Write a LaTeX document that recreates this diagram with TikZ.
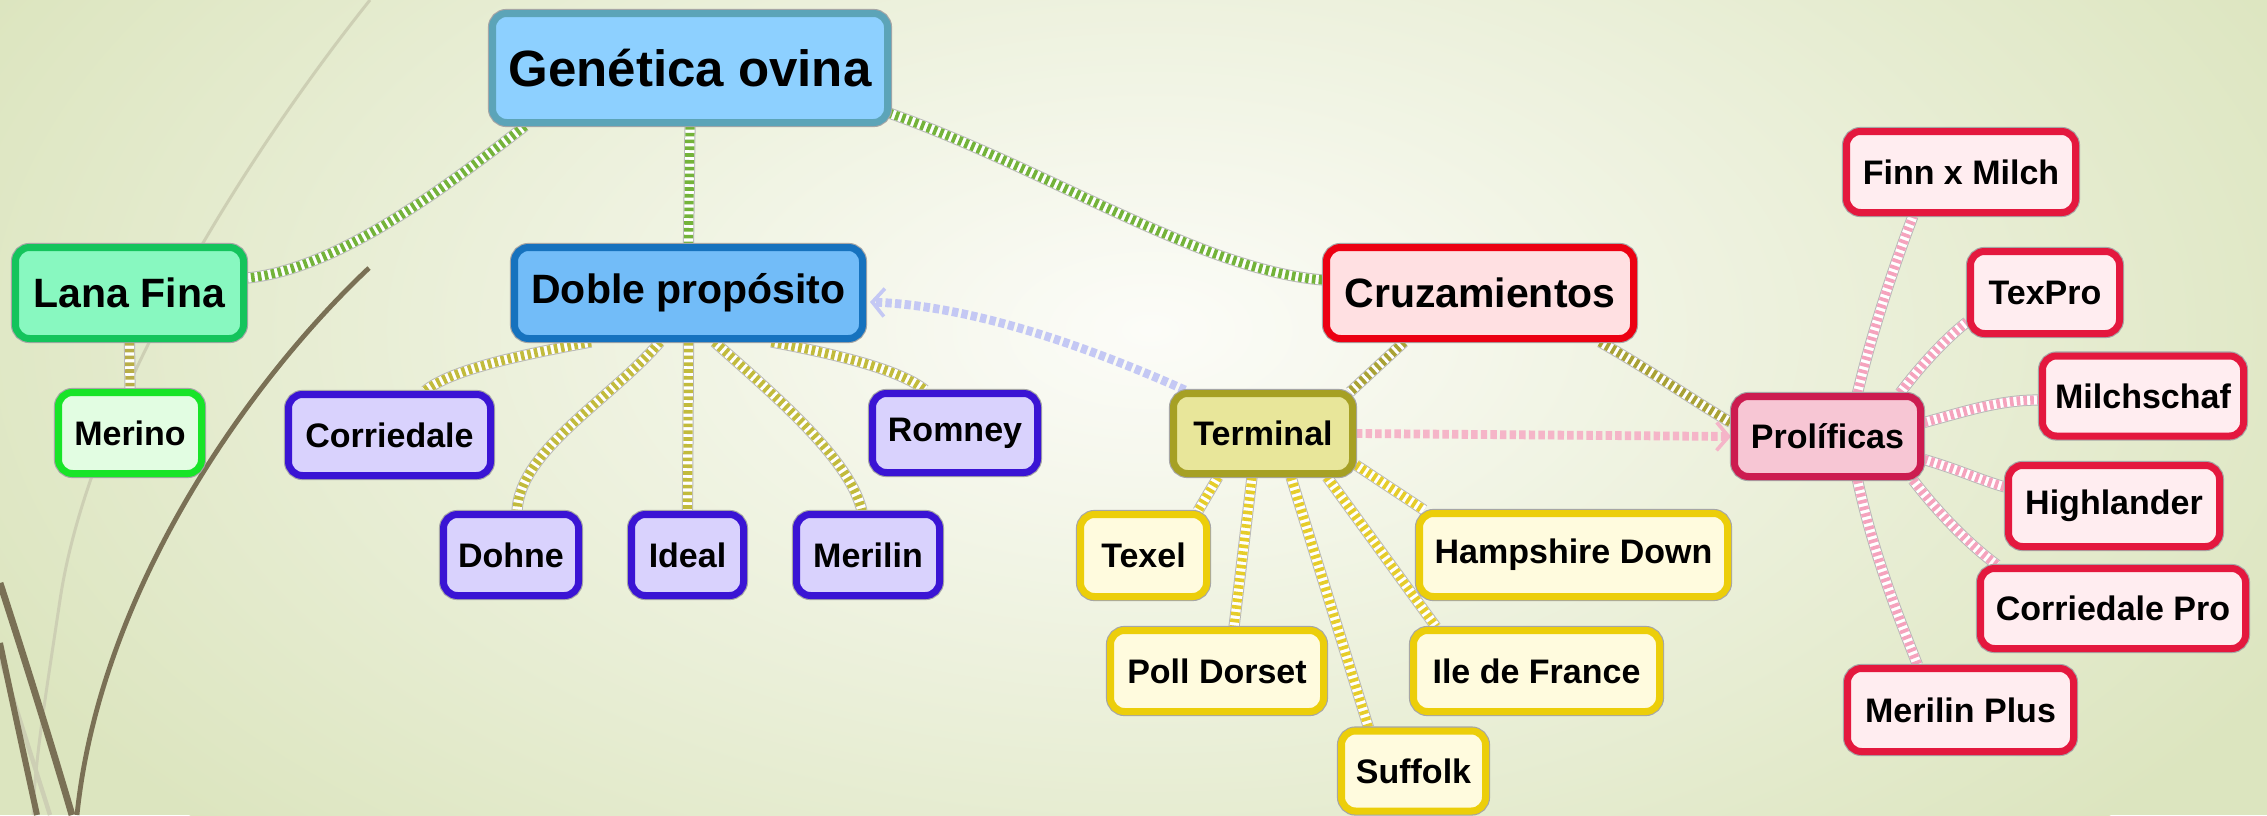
\documentclass[tikz,border=0pt]{standalone}
\usepackage{fontspec}
\setmainfont{Liberation Sans}
\usetikzlibrary{calc,arrows.meta}
\definecolor{bgout}{HTML}{DCE5BF}
\definecolor{bgin}{HTML}{FCFCF8}
\definecolor{genF}{HTML}{8DD0FF}\definecolor{genD}{HTML}{5CA4B8}
\definecolor{lanF}{HTML}{88F8C0}\definecolor{lanD}{HTML}{14C45C}
\definecolor{merF}{HTML}{E2FDE2}\definecolor{merD}{HTML}{18E428}
\definecolor{dobF}{HTML}{72BCF8}\definecolor{dobD}{HTML}{1672BE}
\definecolor{purF}{HTML}{D9D2FD}\definecolor{purD}{HTML}{3A14D4}
\definecolor{cruF}{HTML}{FFE0E2}\definecolor{cruD}{HTML}{EC0012}
\definecolor{terF}{HTML}{E8E69A}\definecolor{terD}{HTML}{A6A024}
\definecolor{yelF}{HTML}{FFFBDE}\definecolor{yelD}{HTML}{ECCE0A}
\definecolor{proF}{HTML}{F7C6D4}\definecolor{proD}{HTML}{CC1C50}
\definecolor{pinF}{HTML}{FFEDF0}\definecolor{pinD}{HTML}{E4183E}
\definecolor{cGreen}{HTML}{74B33A}
\definecolor{cOlive}{HTML}{C2BB3C}
\definecolor{cOliveB}{HTML}{B8AE48}
\definecolor{cOliveC}{HTML}{A9A235}
\definecolor{cYellow}{HTML}{E6CD2A}
\definecolor{cPink}{HTML}{F5A3BD}
\definecolor{cLav}{HTML}{C4C8F4}
\definecolor{cPinkA}{HTML}{F5B5C8}
\definecolor{brownL}{HTML}{7A7055}
\definecolor{greyL}{HTML}{CDCFB4}
\pgfdeclarelayer{bg}
\pgfdeclarelayer{edges}
\pgfsetlayers{bg,edges,main}
\tikzset{
  box/.style={rounded corners=7pt, line width=3.5pt, minimum height=40.5pt,
    inner sep=0pt, text=black, preaction={draw=black!35, line width=4.6pt}},
  fzero/.style={font=\fontsize{25.5}{30}\selectfont\bfseries},
  fone/.style={font=\fontsize{20.5}{24}\selectfont\bfseries},
  ftwo/.style={font=\fontsize{17}{20}\selectfont\bfseries},
  rope/.style={preaction={draw=black!28, line width=5.6pt},
    preaction={draw=white, line width=4.6pt},
    line width=4.6pt, dash pattern=on 1.8pt off 1.6pt},
  darrow/.style={line width=4.4pt, dash pattern=on 3.2pt off 1.6pt,
    -{Straight Barb[length=6pt,width=14pt,line width=1.8pt]}},
  purp/.style={box, draw=purD, fill=purF, ftwo},
  yel/.style={box, draw=yelD, fill=yelF, ftwo},
  pnk/.style={box, draw=pinD, fill=pinF, ftwo}
}
\begin{document}
\begin{tikzpicture}[x=0.5pt,y=-0.5pt]
\useasboundingbox (0,0) rectangle (2267,815);
\begin{pgfonlayer}{bg}
\fill[bgout] (0,0) rectangle (2267,815);
\begin{scope}
\clip (0,0) rectangle (2267,815);
\shade[inner color=bgin, outer color=bgout] (1150,330) ellipse (1300 and 720);
\draw[greyL, line width=1.5pt] (370,0) .. controls (250,150) and (90,400) .. (60,600) .. controls (45,700) and (35,760) .. (33,815);
\draw[greyL, line width=2.2pt] (0,657) -- (50,815);
\draw[brownL, line width=2.4pt] (369,268) .. controls (250,380) and (100,590) .. (77,815);
\draw[brownL, line width=3.4pt] (0,583) .. controls (25,660) and (50,740) .. (72,815);
\draw[brownL, line width=3pt] (0,643) .. controls (12,700) and (25,760) .. (37,815);
\end{scope}
\end{pgfonlayer}

% nodes
\node[box, draw=genD, fill=genF, fzero, minimum width=197.5pt, minimum height=54.5pt] (gen) at (690,68) {Genética ovina};
\node[box, draw=lanD, fill=lanF, fone, minimum width=114pt, minimum height=45.5pt] (lana) at (129.5,293) {Lana Fina};
\node[box, draw=merD, fill=merF, ftwo, minimum width=71.5pt] (merino) at (130,433) {Merino};
\node[box, draw=dobD, fill=dobF, fone, minimum width=174pt, minimum height=45.5pt] (doble) at (688.5,293) {Doble propósito};
\node[purp, minimum width=101pt] (corr) at (389.5,435) {Corriedale};
\node[purp, minimum width=67.5pt] (dohne) at (511,555) {Dohne};
\node[purp, minimum width=56pt] (ideal) at (687.5,555) {Ideal};
\node[purp, minimum width=71.5pt] (merilin) at (868,555) {Merilin};
\node[purp, minimum width=82.5pt, minimum height=39.5pt] (romney) at (955,433) {Romney};
\node[box, draw=cruD, fill=cruF, fone, minimum width=153.5pt, minimum height=45.5pt] (cruz) at (1480,293) {Cruzamientos};
\node[box, draw=terD, fill=terF, ftwo, minimum width=89.5pt, minimum height=40pt] (terminal) at (1263,433.5) {Terminal};
\node[box, draw=proD, fill=proF, ftwo, minimum width=93pt, minimum height=40pt] (prol) at (1827.5,436.5) {Prolíficas};
\node[yel, minimum width=63pt, minimum height=41pt] (texel) at (1143.5,555.5) {Texel};
\node[yel, minimum width=154pt, minimum height=41.5pt] (hamp) at (1573.5,555) {Hampshire Down};
\node[yel, minimum width=106.5pt] (poll) at (1217,671) {Poll Dorset};
\node[yel, minimum width=123pt] (ile) at (1536.5,671) {Ile de France};
\node[yel, minimum width=72pt, minimum height=40pt] (suffolk) at (1413.5,771) {Suffolk};
\node[pnk, minimum width=114.5pt] (finn) at (1961,172) {Finn x Milch};
\node[pnk, minimum width=74.5pt, minimum height=41pt] (texpro) at (2045,292.5) {TexPro};
\node[pnk, minimum width=100.5pt, minimum height=40pt] (milch) at (2143,396) {Milchschaf};
\node[pnk, minimum width=105.5pt] (high) at (2114,506) {Highlander};
\node[pnk, minimum width=132.5pt, minimum height=40pt] (corrpro) at (2113,608.5) {Corriedale Pro};
\node[pnk, minimum width=113pt, minimum height=41.5pt] (merplus) at (1960.5,710) {Merilin Plus};

\begin{pgfonlayer}{edges}
% root
\draw[rope, cGreen] ($(gen.south west)+(36,0)$) .. controls (430,200) and (330,270) .. ($(lana.east)+(0,-15)$);
\draw[rope, cGreen] (gen.south) -- (doble.north);
\draw[rope, cGreen] ($(gen.south east)+(-2,-13)$) .. controls (1050,170) and (1200,270) .. ($(cruz.west)+(0,-13)$);
% lana
\draw[rope, cOliveB] (lana.south) -- (merino.north);
% doble
\draw[rope, cOlive] ($(doble.south west)+(80,0)$) .. controls (520,355) and (450,370) .. ($(corr.north west)+(140,0)$);
\draw[rope, cOlive] ($(doble.south west)+(149,0)$) .. controls (610,400) and (520,450) .. ($(dohne.north)+(6,0)$);
\draw[rope, cOlive] (doble.south) -- (ideal.north);
\draw[rope, cOlive] ($(doble.south)+(26,0)$) .. controls (780,400) and (850,460) .. ($(merilin.north)+(-6,0)$);
\draw[rope, cOlive] ($(doble.south)+(83,0)$) .. controls (840,355) and (900,370) .. ($(romney.north west)+(56,0)$);
% cruz
\draw[rope, cOliveC] ($(cruz.south west)+(81,0)$) -- ($(terminal.north east)+(-6,2)$);
\draw[rope, cOliveC] ($(cruz.south east)+(-37,0)$) .. controls (1650,370) and (1700,405) .. ($(prol.west)+(0,-14)$);
% arrows
\draw[darrow, cLav] ($(terminal.north west)+(15,0)$) .. controls (1050,330) and (950,305) .. ($(doble.east)+(4,9)$);
\draw[darrow, cPinkA] (terminal.east) -- (prol.west);
% terminal
\draw[rope, cYellow] ($(terminal.south west)+(48,0)$) -- ($(texel.north east)+(-12,0)$);
\draw[rope, cYellow] ($(terminal.south west)+(82,0)$) -- ($(poll.north)+(17,0)$);
\draw[rope, cYellow] ($(terminal.south)+(28,0)$) -- ($(suffolk.north)+(-45,0)$);
\draw[rope, cYellow] ($(terminal.south east)+(-29,0)$) -- ($(ile.north west)+(26,0)$);
\draw[rope, cYellow] ($(terminal.south east)+(0,-12)$) -- ($(hamp.north west)+(8,0)$);
% prolificas
\draw[rope, cPink] ($(prol.north)+(30,0)$) .. controls (1875,320) and (1900,250) .. ($(finn.south)+(-48,0)$);
\draw[rope, cPink] ($(prol.north east)+(-24,0)$) .. controls (1925,360) and (1950,335) .. ($(texpro.south west)+(0,-15)$);
\draw[rope, cPink] ($(prol.east)+(0,-14)$) .. controls (1970,410) and (2000,400) .. ($(milch.west)+(0,4)$);
\draw[rope, cPink] ($(prol.east)+(0,23)$) .. controls (1960,470) and (1980,480) .. ($(high.west)+(0,-19)$);
\draw[rope, cPink] ($(prol.south east)+(-11,0)$) .. controls (1940,515) and (1970,545) .. ($(corrpro.north west)+(20,0)$);
\draw[rope, cPink] ($(prol.south)+(30,0)$) .. controls (1875,560) and (1900,620) .. ($(merplus.north)+(-43,0)$);
\end{pgfonlayer}
\end{tikzpicture}
\end{document}
